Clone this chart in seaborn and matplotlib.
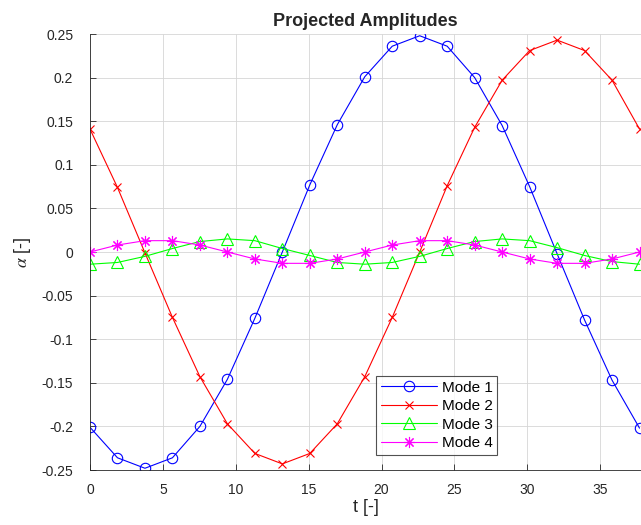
import numpy as np
import pandas as pd
import matplotlib
matplotlib.use("Agg")
import matplotlib.pyplot as plt
import seaborn as sns

# ---- data ----
t = [0.000, 1.885, 3.770, 5.655, 7.540, 9.425, 11.310, 13.195, 15.080, 16.965,
     18.850, 20.735, 22.619, 24.504, 26.389, 28.274, 30.159, 32.044, 33.929,
     35.814, 37.699]
mode1 = [-0.201, -0.236, -0.248, -0.236, -0.200, -0.146, -0.076, 0.000, 0.077, 0.146,
         0.201, 0.236, 0.248, 0.236, 0.200, 0.145, 0.075, -0.002, -0.078, -0.147, -0.202]
mode2 = [0.141, 0.074, -0.001, -0.075, -0.143, -0.197, -0.231, -0.243, -0.231, -0.197,
         -0.143, -0.075, 0.000, 0.076, 0.143, 0.197, 0.231, 0.243, 0.231, 0.197, 0.141]
mode3 = [-0.014, -0.012, -0.005, 0.004, 0.012, 0.015, 0.013, 0.004, -0.004, -0.012,
         -0.014, -0.012, -0.005, 0.004, 0.012, 0.015, 0.013, 0.005, -0.004, -0.011, -0.014]
mode4 = [0.000, 0.008, 0.013, 0.013, 0.008, 0.000, -0.008, -0.013, -0.013, -0.008,
         0.000, 0.008, 0.013, 0.013, 0.008, 0.000, -0.008, -0.013, -0.013, -0.008, 0.000]
labels = ["Mode 1", "Mode 2", "Mode 3", "Mode 4"]
xticks = [0, 5, 10, 15, 20, 25, 30, 35]
yticks = [-0.25, -0.2, -0.15, -0.1, -0.05, 0, 0.05, 0.1, 0.15, 0.2, 0.25]
yticklabels = ["-0.25", "-0.2", "-0.15", "-0.1", "-0.05", "0", "0.05", "0.1", "0.15", "0.2", "0.25"]

sns.set_theme(style="white")
plt.rcParams['font.family'] = ['Liberation Sans', 'DejaVu Sans']
plt.rcParams['mathtext.fontset'] = 'stix'

fig = plt.figure(figsize=(6.41, 5.25), dpi=100)
ax = fig.add_axes([90/641, 55/525, 551/641, 436/525])

series = [mode1, mode2, mode3, mode4]
colors = ["#0000ff", "#ff0000", "#00ff00", "#ff00ff"]
markers = ["o", "x", "^", (8, 2, 0)]
msizes = [7.5, 6.0, 9.0, 8.0]

for y, lab, c, m, ms in zip(series, labels, colors, markers, msizes):
    df = pd.DataFrame({"t": t, "alpha": y})
    sns.lineplot(data=df, x="t", y="alpha", ax=ax, color=c, marker=m,
                 markersize=ms, markerfacecolor="none", markeredgecolor=c,
                 markeredgewidth=0.8, linewidth=0.8, label=lab, clip_on=True)

for line, c in zip(ax.lines, colors):
    line.set_markerfacecolor("none")
    line.set_markeredgecolor(c)

ax.set_xlim(0, 37.80)
ax.set_ylim(-0.25, 0.25)
ax.set_xticks(xticks)
ax.set_xticklabels([str(v) for v in xticks])
ax.set_yticks(yticks)
ax.set_yticklabels(yticklabels)
ax.tick_params(direction="in", length=4, width=0.6, colors="#262626",
               labelsize=10, labelcolor="#262626", left=True, bottom=True)
ax.tick_params(axis="y", pad=12)
ax.tick_params(axis="x", pad=9)
ax.grid(True, color="#d6d6d6", linewidth=0.6)
ax.set_axisbelow(True)
for s in ["top", "right"]:
    ax.spines[s].set_visible(False)
for s in ["left", "bottom"]:
    ax.spines[s].set_color("#262626")
    ax.spines[s].set_linewidth(0.6)

ax.set_title("Projected Amplitudes", fontsize=13, fontweight="bold", pad=6)
ax.set_xlabel("t [-]", fontsize=13, color="#262626", labelpad=2)
ax.set_ylabel(r"$\alpha$ [-]", fontsize=13, color="#262626", labelpad=6)

leg = ax.legend(loc="lower left", bbox_to_anchor=((376-90)/551, (470-455)/436),
                frameon=True, fancybox=False, edgecolor="#262626",
                fontsize=11, handlelength=3.7, borderpad=0.3,
                labelspacing=0.3, handletextpad=0.3, borderaxespad=0)
leg.get_frame().set_linewidth(0.8)
for txt in leg.get_texts():
    txt.set_color("#000000")

fig.savefig("out.png", dpi=100)
